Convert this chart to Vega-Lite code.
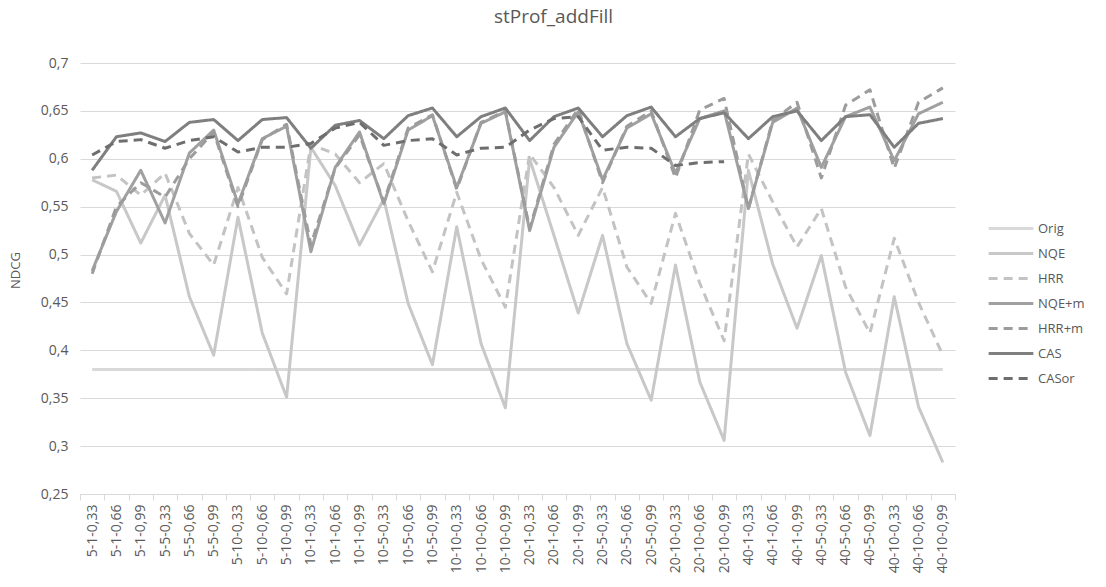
{
  "$schema": "https://vega.github.io/schema/vega-lite/v6.json",
  "width": 875,
  "height": 431,
  "autosize": {"type": "none"},
  "padding": {"left": 80, "top": 63, "right": 151, "bottom": 93},
  "background": "white",
  "title": {
    "text": "stProf_addFill",
    "fontSize": 19,
    "font": "Open Sans",
    "fontWeight": "normal",
    "color": "#595959",
    "anchor": "middle",
    "frame": "group",
    "dx": 36,
    "offset": 29
  },
  "config": {
    "view": {"stroke": null},
    "font": "Open Sans"
  },
  "data": {
    "values": [
      {"x":"5-1-0,33","s":"Orig","v":0.38},{"x":"5-1-0,66","s":"Orig","v":0.38},{"x":"5-1-0,99","s":"Orig","v":0.38},{"x":"5-5-0,33","s":"Orig","v":0.38},{"x":"5-5-0,66","s":"Orig","v":0.38},{"x":"5-5-0,99","s":"Orig","v":0.38},{"x":"5-10-0,33","s":"Orig","v":0.38},{"x":"5-10-0,66","s":"Orig","v":0.38},{"x":"5-10-0,99","s":"Orig","v":0.38},{"x":"10-1-0,33","s":"Orig","v":0.38},{"x":"10-1-0,66","s":"Orig","v":0.38},{"x":"10-1-0,99","s":"Orig","v":0.38},{"x":"10-5-0,33","s":"Orig","v":0.38},{"x":"10-5-0,66","s":"Orig","v":0.38},{"x":"10-5-0,99","s":"Orig","v":0.38},{"x":"10-10-0,33","s":"Orig","v":0.38},{"x":"10-10-0,66","s":"Orig","v":0.38},{"x":"10-10-0,99","s":"Orig","v":0.38},{"x":"20-1-0,33","s":"Orig","v":0.38},{"x":"20-1-0,66","s":"Orig","v":0.38},{"x":"20-1-0,99","s":"Orig","v":0.38},{"x":"20-5-0,33","s":"Orig","v":0.38},{"x":"20-5-0,66","s":"Orig","v":0.38},{"x":"20-5-0,99","s":"Orig","v":0.38},{"x":"20-10-0,33","s":"Orig","v":0.38},{"x":"20-10-0,66","s":"Orig","v":0.38},{"x":"20-10-0,99","s":"Orig","v":0.38},{"x":"40-1-0,33","s":"Orig","v":0.38},{"x":"40-1-0,66","s":"Orig","v":0.38},{"x":"40-1-0,99","s":"Orig","v":0.38},{"x":"40-5-0,33","s":"Orig","v":0.38},{"x":"40-5-0,66","s":"Orig","v":0.38},{"x":"40-5-0,99","s":"Orig","v":0.38},{"x":"40-10-0,33","s":"Orig","v":0.38},{"x":"40-10-0,66","s":"Orig","v":0.38},{"x":"40-10-0,99","s":"Orig","v":0.38},

      {"x":"5-1-0,33","s":"NQE","v":0.578},{"x":"5-1-0,66","s":"NQE","v":0.566},{"x":"5-1-0,99","s":"NQE","v":0.512},{"x":"5-5-0,33","s":"NQE","v":0.562},{"x":"5-5-0,66","s":"NQE","v":0.456},{"x":"5-5-0,99","s":"NQE","v":0.395},{"x":"5-10-0,33","s":"NQE","v":0.539},{"x":"5-10-0,66","s":"NQE","v":0.418},{"x":"5-10-0,99","s":"NQE","v":0.351},{"x":"10-1-0,33","s":"NQE","v":0.612},{"x":"10-1-0,66","s":"NQE","v":0.572},{"x":"10-1-0,99","s":"NQE","v":0.51},{"x":"10-5-0,33","s":"NQE","v":0.558},{"x":"10-5-0,66","s":"NQE","v":0.449},{"x":"10-5-0,99","s":"NQE","v":0.385},{"x":"10-10-0,33","s":"NQE","v":0.529},{"x":"10-10-0,66","s":"NQE","v":0.407},{"x":"10-10-0,99","s":"NQE","v":0.34},{"x":"20-1-0,33","s":"NQE","v":0.6},{"x":"20-1-0,66","s":"NQE","v":0.52},{"x":"20-1-0,99","s":"NQE","v":0.439},{"x":"20-5-0,33","s":"NQE","v":0.52},{"x":"20-5-0,66","s":"NQE","v":0.407},{"x":"20-5-0,99","s":"NQE","v":0.348},{"x":"20-10-0,33","s":"NQE","v":0.489},{"x":"20-10-0,66","s":"NQE","v":0.367},{"x":"20-10-0,99","s":"NQE","v":0.306},{"x":"40-1-0,33","s":"NQE","v":0.588},{"x":"40-1-0,66","s":"NQE","v":0.49},{"x":"40-1-0,99","s":"NQE","v":0.423},{"x":"40-5-0,33","s":"NQE","v":0.499},{"x":"40-5-0,66","s":"NQE","v":0.377},{"x":"40-5-0,99","s":"NQE","v":0.311},{"x":"40-10-0,33","s":"NQE","v":0.456},{"x":"40-10-0,66","s":"NQE","v":0.341},{"x":"40-10-0,99","s":"NQE","v":0.283},

      {"x":"5-1-0,33","s":"HRR","v":0.58},{"x":"5-1-0,66","s":"HRR","v":0.583},{"x":"5-1-0,99","s":"HRR","v":0.562},{"x":"5-5-0,33","s":"HRR","v":0.585},{"x":"5-5-0,66","s":"HRR","v":0.522},{"x":"5-5-0,99","s":"HRR","v":0.489},{"x":"5-10-0,33","s":"HRR","v":0.57},{"x":"5-10-0,66","s":"HRR","v":0.497},{"x":"5-10-0,99","s":"HRR","v":0.459},{"x":"10-1-0,33","s":"HRR","v":0.615},{"x":"10-1-0,66","s":"HRR","v":0.605},{"x":"10-1-0,99","s":"HRR","v":0.575},{"x":"10-5-0,33","s":"HRR","v":0.595},{"x":"10-5-0,66","s":"HRR","v":0.535},{"x":"10-5-0,99","s":"HRR","v":0.482},{"x":"10-10-0,33","s":"HRR","v":0.565},{"x":"10-10-0,66","s":"HRR","v":0.495},{"x":"10-10-0,99","s":"HRR","v":0.445},{"x":"20-1-0,33","s":"HRR","v":0.605},{"x":"20-1-0,66","s":"HRR","v":0.57},{"x":"20-1-0,99","s":"HRR","v":0.52},{"x":"20-5-0,33","s":"HRR","v":0.57},{"x":"20-5-0,66","s":"HRR","v":0.487},{"x":"20-5-0,99","s":"HRR","v":0.449},{"x":"20-10-0,33","s":"HRR","v":0.543},{"x":"20-10-0,66","s":"HRR","v":0.47},{"x":"20-10-0,99","s":"HRR","v":0.41},{"x":"40-1-0,33","s":"HRR","v":0.605},{"x":"40-1-0,66","s":"HRR","v":0.555},{"x":"40-1-0,99","s":"HRR","v":0.508},{"x":"40-5-0,33","s":"HRR","v":0.548},{"x":"40-5-0,66","s":"HRR","v":0.466},{"x":"40-5-0,99","s":"HRR","v":0.418},{"x":"40-10-0,33","s":"HRR","v":0.517},{"x":"40-10-0,66","s":"HRR","v":0.45},{"x":"40-10-0,99","s":"HRR","v":0.395},

      {"x":"5-1-0,33","s":"NQE+m","v":0.483},{"x":"5-1-0,66","s":"NQE+m","v":0.545},{"x":"5-1-0,99","s":"NQE+m","v":0.588},{"x":"5-5-0,33","s":"NQE+m","v":0.533},{"x":"5-5-0,66","s":"NQE+m","v":0.606},{"x":"5-5-0,99","s":"NQE+m","v":0.63},{"x":"5-10-0,33","s":"NQE+m","v":0.553},{"x":"5-10-0,66","s":"NQE+m","v":0.621},{"x":"5-10-0,99","s":"NQE+m","v":0.634},{"x":"10-1-0,33","s":"NQE+m","v":0.503},{"x":"10-1-0,66","s":"NQE+m","v":0.591},{"x":"10-1-0,99","s":"NQE+m","v":0.628},{"x":"10-5-0,33","s":"NQE+m","v":0.553},{"x":"10-5-0,66","s":"NQE+m","v":0.63},{"x":"10-5-0,99","s":"NQE+m","v":0.645},{"x":"10-10-0,33","s":"NQE+m","v":0.57},{"x":"10-10-0,66","s":"NQE+m","v":0.637},{"x":"10-10-0,99","s":"NQE+m","v":0.649},{"x":"20-1-0,33","s":"NQE+m","v":0.525},{"x":"20-1-0,66","s":"NQE+m","v":0.612},{"x":"20-1-0,99","s":"NQE+m","v":0.649},{"x":"20-5-0,33","s":"NQE+m","v":0.578},{"x":"20-5-0,66","s":"NQE+m","v":0.632},{"x":"20-5-0,99","s":"NQE+m","v":0.647},{"x":"20-10-0,33","s":"NQE+m","v":0.585},{"x":"20-10-0,66","s":"NQE+m","v":0.642},{"x":"20-10-0,99","s":"NQE+m","v":0.65},{"x":"40-1-0,33","s":"NQE+m","v":0.548},{"x":"40-1-0,66","s":"NQE+m","v":0.638},{"x":"40-1-0,99","s":"NQE+m","v":0.653},{"x":"40-5-0,33","s":"NQE+m","v":0.591},{"x":"40-5-0,66","s":"NQE+m","v":0.644},{"x":"40-5-0,99","s":"NQE+m","v":0.654},{"x":"40-10-0,33","s":"NQE+m","v":0.598},{"x":"40-10-0,66","s":"NQE+m","v":0.647},{"x":"40-10-0,99","s":"NQE+m","v":0.659},

      {"x":"5-1-0,33","s":"HRR+m","v":0.48},{"x":"5-1-0,66","s":"HRR+m","v":0.55},{"x":"5-1-0,99","s":"HRR+m","v":0.575},{"x":"5-5-0,33","s":"HRR+m","v":0.56},{"x":"5-5-0,66","s":"HRR+m","v":0.6},{"x":"5-5-0,99","s":"HRR+m","v":0.628},{"x":"5-10-0,33","s":"HRR+m","v":0.55},{"x":"5-10-0,66","s":"HRR+m","v":0.62},{"x":"5-10-0,99","s":"HRR+m","v":0.636},{"x":"10-1-0,33","s":"HRR+m","v":0.51},{"x":"10-1-0,66","s":"HRR+m","v":0.59},{"x":"10-1-0,99","s":"HRR+m","v":0.625},{"x":"10-5-0,33","s":"HRR+m","v":0.555},{"x":"10-5-0,66","s":"HRR+m","v":0.632},{"x":"10-5-0,99","s":"HRR+m","v":0.646},{"x":"10-10-0,33","s":"HRR+m","v":0.568},{"x":"10-10-0,66","s":"HRR+m","v":0.638},{"x":"10-10-0,99","s":"HRR+m","v":0.65},{"x":"20-1-0,33","s":"HRR+m","v":0.527},{"x":"20-1-0,66","s":"HRR+m","v":0.615},{"x":"20-1-0,99","s":"HRR+m","v":0.652},{"x":"20-5-0,33","s":"HRR+m","v":0.575},{"x":"20-5-0,66","s":"HRR+m","v":0.634},{"x":"20-5-0,99","s":"HRR+m","v":0.65},{"x":"20-10-0,33","s":"HRR+m","v":0.58},{"x":"20-10-0,66","s":"HRR+m","v":0.651},{"x":"20-10-0,99","s":"HRR+m","v":0.663},{"x":"40-1-0,33","s":"HRR+m","v":0.548},{"x":"40-1-0,66","s":"HRR+m","v":0.64},{"x":"40-1-0,99","s":"HRR+m","v":0.659},{"x":"40-5-0,33","s":"HRR+m","v":0.58},{"x":"40-5-0,66","s":"HRR+m","v":0.656},{"x":"40-5-0,99","s":"HRR+m","v":0.672},{"x":"40-10-0,33","s":"HRR+m","v":0.59},{"x":"40-10-0,66","s":"HRR+m","v":0.659},{"x":"40-10-0,99","s":"HRR+m","v":0.674},

      {"x":"5-1-0,33","s":"CAS","v":0.588},{"x":"5-1-0,66","s":"CAS","v":0.623},{"x":"5-1-0,99","s":"CAS","v":0.627},{"x":"5-5-0,33","s":"CAS","v":0.618},{"x":"5-5-0,66","s":"CAS","v":0.638},{"x":"5-5-0,99","s":"CAS","v":0.641},{"x":"5-10-0,33","s":"CAS","v":0.619},{"x":"5-10-0,66","s":"CAS","v":0.641},{"x":"5-10-0,99","s":"CAS","v":0.643},{"x":"10-1-0,33","s":"CAS","v":0.611},{"x":"10-1-0,66","s":"CAS","v":0.635},{"x":"10-1-0,99","s":"CAS","v":0.64},{"x":"10-5-0,33","s":"CAS","v":0.621},{"x":"10-5-0,66","s":"CAS","v":0.645},{"x":"10-5-0,99","s":"CAS","v":0.653},{"x":"10-10-0,33","s":"CAS","v":0.623},{"x":"10-10-0,66","s":"CAS","v":0.644},{"x":"10-10-0,99","s":"CAS","v":0.653},{"x":"20-1-0,33","s":"CAS","v":0.619},{"x":"20-1-0,66","s":"CAS","v":0.644},{"x":"20-1-0,99","s":"CAS","v":0.653},{"x":"20-5-0,33","s":"CAS","v":0.623},{"x":"20-5-0,66","s":"CAS","v":0.645},{"x":"20-5-0,99","s":"CAS","v":0.654},{"x":"20-10-0,33","s":"CAS","v":0.623},{"x":"20-10-0,66","s":"CAS","v":0.642},{"x":"20-10-0,99","s":"CAS","v":0.648},{"x":"40-1-0,33","s":"CAS","v":0.621},{"x":"40-1-0,66","s":"CAS","v":0.644},{"x":"40-1-0,99","s":"CAS","v":0.65},{"x":"40-5-0,33","s":"CAS","v":0.619},{"x":"40-5-0,66","s":"CAS","v":0.644},{"x":"40-5-0,99","s":"CAS","v":0.646},{"x":"40-10-0,33","s":"CAS","v":0.612},{"x":"40-10-0,66","s":"CAS","v":0.637},{"x":"40-10-0,99","s":"CAS","v":0.642},

      {"x":"5-1-0,33","s":"CASor","v":0.604},{"x":"5-1-0,66","s":"CASor","v":0.618},{"x":"5-1-0,99","s":"CASor","v":0.62},{"x":"5-5-0,33","s":"CASor","v":0.611},{"x":"5-5-0,66","s":"CASor","v":0.619},{"x":"5-5-0,99","s":"CASor","v":0.623},{"x":"5-10-0,33","s":"CASor","v":0.607},{"x":"5-10-0,66","s":"CASor","v":0.612},{"x":"5-10-0,99","s":"CASor","v":0.612},{"x":"10-1-0,33","s":"CASor","v":0.616},{"x":"10-1-0,66","s":"CASor","v":0.632},{"x":"10-1-0,99","s":"CASor","v":0.638},{"x":"10-5-0,33","s":"CASor","v":0.614},{"x":"10-5-0,66","s":"CASor","v":0.619},{"x":"10-5-0,99","s":"CASor","v":0.621},{"x":"10-10-0,33","s":"CASor","v":0.604},{"x":"10-10-0,66","s":"CASor","v":0.611},{"x":"10-10-0,99","s":"CASor","v":0.612},{"x":"20-1-0,33","s":"CASor","v":0.63},{"x":"20-1-0,66","s":"CASor","v":0.642},{"x":"20-1-0,99","s":"CASor","v":0.644},{"x":"20-5-0,33","s":"CASor","v":0.609},{"x":"20-5-0,66","s":"CASor","v":0.612},{"x":"20-5-0,99","s":"CASor","v":0.611},{"x":"20-10-0,33","s":"CASor","v":0.593},{"x":"20-10-0,66","s":"CASor","v":0.596},{"x":"20-10-0,99","s":"CASor","v":0.597}
    ]
  },
  "mark": {"type": "line", "strokeWidth": 3, "strokeCap": "butt", "strokeJoin": "round"},
  "encoding": {
    "x": {
      "field": "x",
      "type": "ordinal",
      "sort": null,
      "scale": {"paddingInner": 0, "paddingOuter": 0},
      "axis": {
        "title": null,
        "labelAngle": -90,
        "labelFontSize": 14,
        "labelColor": "#595959",
        "labelPadding": 4,
        "tickBand": "extent",
        "tickColor": "#d9d9d9",
        "tickSize": 6,
        "domainColor": "#d9d9d9",
        "grid": false
      }
    },
    "y": {
      "field": "v",
      "type": "quantitative",
      "scale": {"domain": [0.25, 0.7], "nice": false, "zero": false},
      "axis": {
        "title": "NDCG",
        "titleFontSize": 13,
        "titleFontWeight": "normal",
        "titleColor": "#595959",
        "titleX": -58,
        "titleY": 207,
        "values": [0.25, 0.3, 0.35, 0.4, 0.45, 0.5, 0.55, 0.6, 0.65, 0.7],
        "labelExpr": "replace(format(datum.value, '.2~f'), '.', ',')",
        "labelFontSize": 14,
        "labelColor": "#595959",
        "labelPadding": 12,
        "domain": false,
        "ticks": false,
        "gridColor": "#d9d9d9",
        "gridWidth": 1
      }
    },
    "color": {
      "field": "s",
      "type": "nominal",
      "sort": ["Orig", "NQE", "HRR", "NQE+m", "HRR+m", "CAS", "CASor"],
      "scale": {
        "domain": ["Orig", "NQE", "HRR", "NQE+m", "HRR+m", "CAS", "CASor"],
        "range": ["#d9d9d9", "#c8c8c8", "#c3c3c3", "#a0a0a0", "#9c9c9c", "#7f7f7f", "#6e6e6e"]
      },
      "legend": {
        "title": null,
        "orient": "none",
        "legendX": 907,
        "legendY": 153,
        "symbolType": "stroke",
        "symbolSize": 2000,
        "symbolStrokeWidth": 3,
        "clipHeight": 25,
        "labelFontSize": 13,
        "labelColor": "#595959",
        "rowPadding": 0,
        "labelOffset": 3
      }
    },
    "strokeDash": {
      "field": "s",
      "type": "nominal",
      "sort": ["Orig", "NQE", "HRR", "NQE+m", "HRR+m", "CAS", "CASor"],
      "scale": {
        "domain": ["Orig", "NQE", "HRR", "NQE+m", "HRR+m", "CAS", "CASor"],
        "range": [[1, 0], [1, 0], [9, 6], [1, 0], [9, 6], [1, 0], [9, 6]]
      },
      "legend": {
        "title": null,
        "orient": "none",
        "legendX": 907,
        "legendY": 153,
        "symbolType": "stroke",
        "symbolSize": 2000,
        "symbolStrokeWidth": 3,
        "clipHeight": 25,
        "labelFontSize": 13,
        "labelColor": "#595959",
        "rowPadding": 0,
        "labelOffset": 3
      }
    },
    "strokeWidth": {
      "condition": {"test": "datum.s === 'Orig'", "value": 3.5},
      "value": 3
    }
  }
}
